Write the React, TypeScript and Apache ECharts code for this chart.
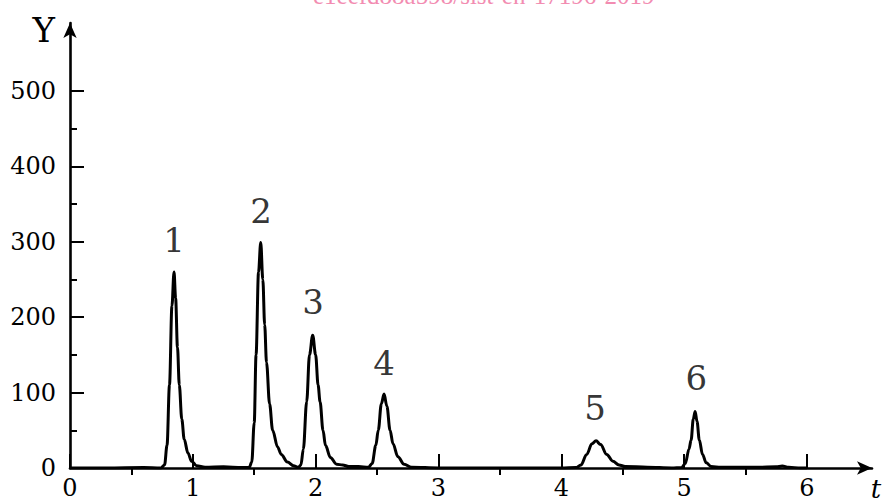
import React, { useEffect, useRef } from "react";
import * as echarts from "echarts";

// chromatogram trace: [t, Y]
const trace: [number, number][] = [
  [0, 0], [0.3, 0], [0.6, 0.5], [0.74, 0],
  [0.77, 4], [0.79, 30], [0.81, 110], [0.83, 215], [0.847, 260], [0.86, 225], [0.875, 160], [0.89, 110], [0.91, 65], [0.93, 38], [0.96, 20], [0.99, 9], [1.03, 3], [1.1, 1], [1.25, 1.5], [1.4, 0.5], [1.46, 1],
  [1.48, 8], [1.5, 60], [1.515, 150], [1.535, 260], [1.553, 299], [1.57, 250], [1.585, 190], [1.6, 140], [1.625, 85], [1.65, 50], [1.69, 28], [1.72, 18], [1.77, 8], [1.82, 3], [1.86, 1],
  [1.88, 4], [1.9, 25], [1.927, 88], [1.95, 150], [1.976, 176], [2.0, 150], [2.02, 110], [2.036, 88], [2.06, 50], [2.08, 30], [2.12, 14], [2.17, 5], [2.22, 4], [2.27, 2], [2.35, 2], [2.43, 1],
  [2.46, 6], [2.49, 30], [2.51, 50], [2.535, 85], [2.557, 98], [2.58, 82], [2.606, 50], [2.63, 32], [2.67, 15], [2.72, 5], [2.78, 1],
  [3, 0], [3.5, 0], [4, 0], [4.12, 0.5],
  [4.16, 4], [4.207, 18], [4.25, 32], [4.283, 36], [4.32, 31], [4.37, 18], [4.42, 9], [4.47, 4], [4.52, 2], [4.7, 1], [4.9, 0], [4.98, 0.5],
  [5.01, 6], [5.04, 25], [5.057, 37], [5.075, 65], [5.09, 75], [5.105, 62], [5.124, 37], [5.15, 18], [5.18, 7], [5.22, 2], [5.3, 1], [5.6, 1], [5.75, 1.5], [5.8, 2.5], [5.85, 1], [5.95, 0], [6.0, 0],
];

// peak numbers and label anchor positions [t, Y]
const peakNames = ["1", "2", "3", "4", "5", "6"];
const peakLabelPos: [number, number][] = [
  [0.847, 302], [1.555, 341], [1.98, 220], [2.557, 139], [4.275, 79], [5.1, 119],
];

const xMajorTicks = [0, 1, 2, 3, 4, 5, 6];
const xMinorTicks = [0.5, 1.5, 2.5, 3.5, 4.5, 5.5];
const yMajorTicks = [0, 100, 200, 300, 400, 500];
const yMinorTicks = [50, 150, 250, 350, 450];

const watermark = "e1eefd88a598/sist-en-17196-2019";

const SERIF = "DejaVu Serif";

export default function App() {
  const ref = useRef<HTMLDivElement>(null);
  useEffect(() => {
    if (!ref.current) return;
    const chart = echarts.init(ref.current, null, { renderer: "svg" });
    const xMax = 6.53;
    const yMax = 590;
    const axisCommon = {
      min: 0,
      splitLine: { show: false },
    };
    chart.setOption({
      animation: false,
      backgroundColor: "#ffffff",
      grid: {
        left: 70,
        right: 10,
        top: 23,
        bottom: 36,
        containLabel: false,
        outerBoundsMode: "none",
      },
      xAxis: [
        {
          ...axisCommon,
          type: "value",
          max: xMax,
          axisLine: {
            show: true,
            onZero: false,
            lineStyle: { color: "#000", width: 2.6 },
            symbol: ["none", "arrow"],
            symbolSize: [10, 15],
          },
          axisTick: {
            show: true,
            inside: true,
            length: 14,
            lineStyle: { color: "#000", width: 2 },
            customValues: xMajorTicks,
          },
          axisLabel: {
            show: true,
            customValues: xMajorTicks,
            margin: 8,
            color: "#000",
            fontFamily: SERIF,
            fontSize: 24,
          },
        },
        {
          ...axisCommon,
          type: "value",
          max: xMax,
          axisLine: { show: false },
          axisTick: {
            show: true,
            inside: true,
            length: 7,
            lineStyle: { color: "#000", width: 2 },
            customValues: xMinorTicks,
          },
          axisLabel: { show: false },
        },
      ],
      yAxis: [
        {
          ...axisCommon,
          type: "value",
          max: yMax,
          name: "Y",
          nameLocation: "end",
          nameGap: -7,
          nameTextStyle: {
            color: "#000",
            fontFamily: SERIF,
            fontSize: 34,
            align: "right",
            verticalAlign: "middle",
            padding: [0, 15, 0, 0],
          },
          axisLine: {
            show: true,
            onZero: false,
            lineStyle: { color: "#000", width: 2.6 },
            symbol: ["none", "arrow"],
            symbolSize: [10, 15],
          },
          axisTick: {
            show: true,
            inside: true,
            length: 14,
            lineStyle: { color: "#000", width: 2 },
            customValues: yMajorTicks,
          },
          axisLabel: {
            show: true,
            customValues: yMajorTicks,
            margin: 14,
            color: "#000",
            fontFamily: SERIF,
            fontSize: 24,
          },
        },
        {
          ...axisCommon,
          type: "value",
          max: yMax,
          position: "left",
          axisLine: { show: false },
          axisTick: {
            show: true,
            inside: true,
            length: 7,
            lineStyle: { color: "#000", width: 2 },
            customValues: yMinorTicks,
          },
          axisLabel: { show: false },
        },
      ],
      graphic: [
        {
          type: "text",
          left: 313,
          top: -17,
          style: {
            text: watermark,
            fill: "#f28cb1",
            font: "25px 'Liberation Serif'",
          },
          z: 100,
        },
        {
          type: "text",
          x: 876,
          y: 489,
          style: {
            text: "t",
            fill: "#000",
            font: "italic 26px 'DejaVu Serif'",
            align: "center",
            verticalAlign: "middle",
          },
        },
      ],
      series: [
        {
          type: "line",
          data: trace,
          xAxisIndex: 0,
          yAxisIndex: 0,
          showSymbol: false,
          smooth: 0.35,
          smoothMonotone: "x",
          lineStyle: { color: "#000", width: 3 },
          z: 3,
        },
        {
          type: "scatter",
          xAxisIndex: 0,
          yAxisIndex: 0,
          symbolSize: 0,
          data: peakLabelPos.map((p, i) => ({ value: p, name: peakNames[i] })),
          label: {
            show: true,
            position: "inside",
            formatter: (p: any) => p.name,
            color: "#000",
            fontFamily: SERIF,
            fontSize: 34,
          },
        },
      ],
    });
    return () => chart.dispose();
  }, []);
  return (
    <div
      ref={ref}
      style={{ position: "fixed", left: 0, top: 0, width: 882, height: 504 }}
    />
  );
}
